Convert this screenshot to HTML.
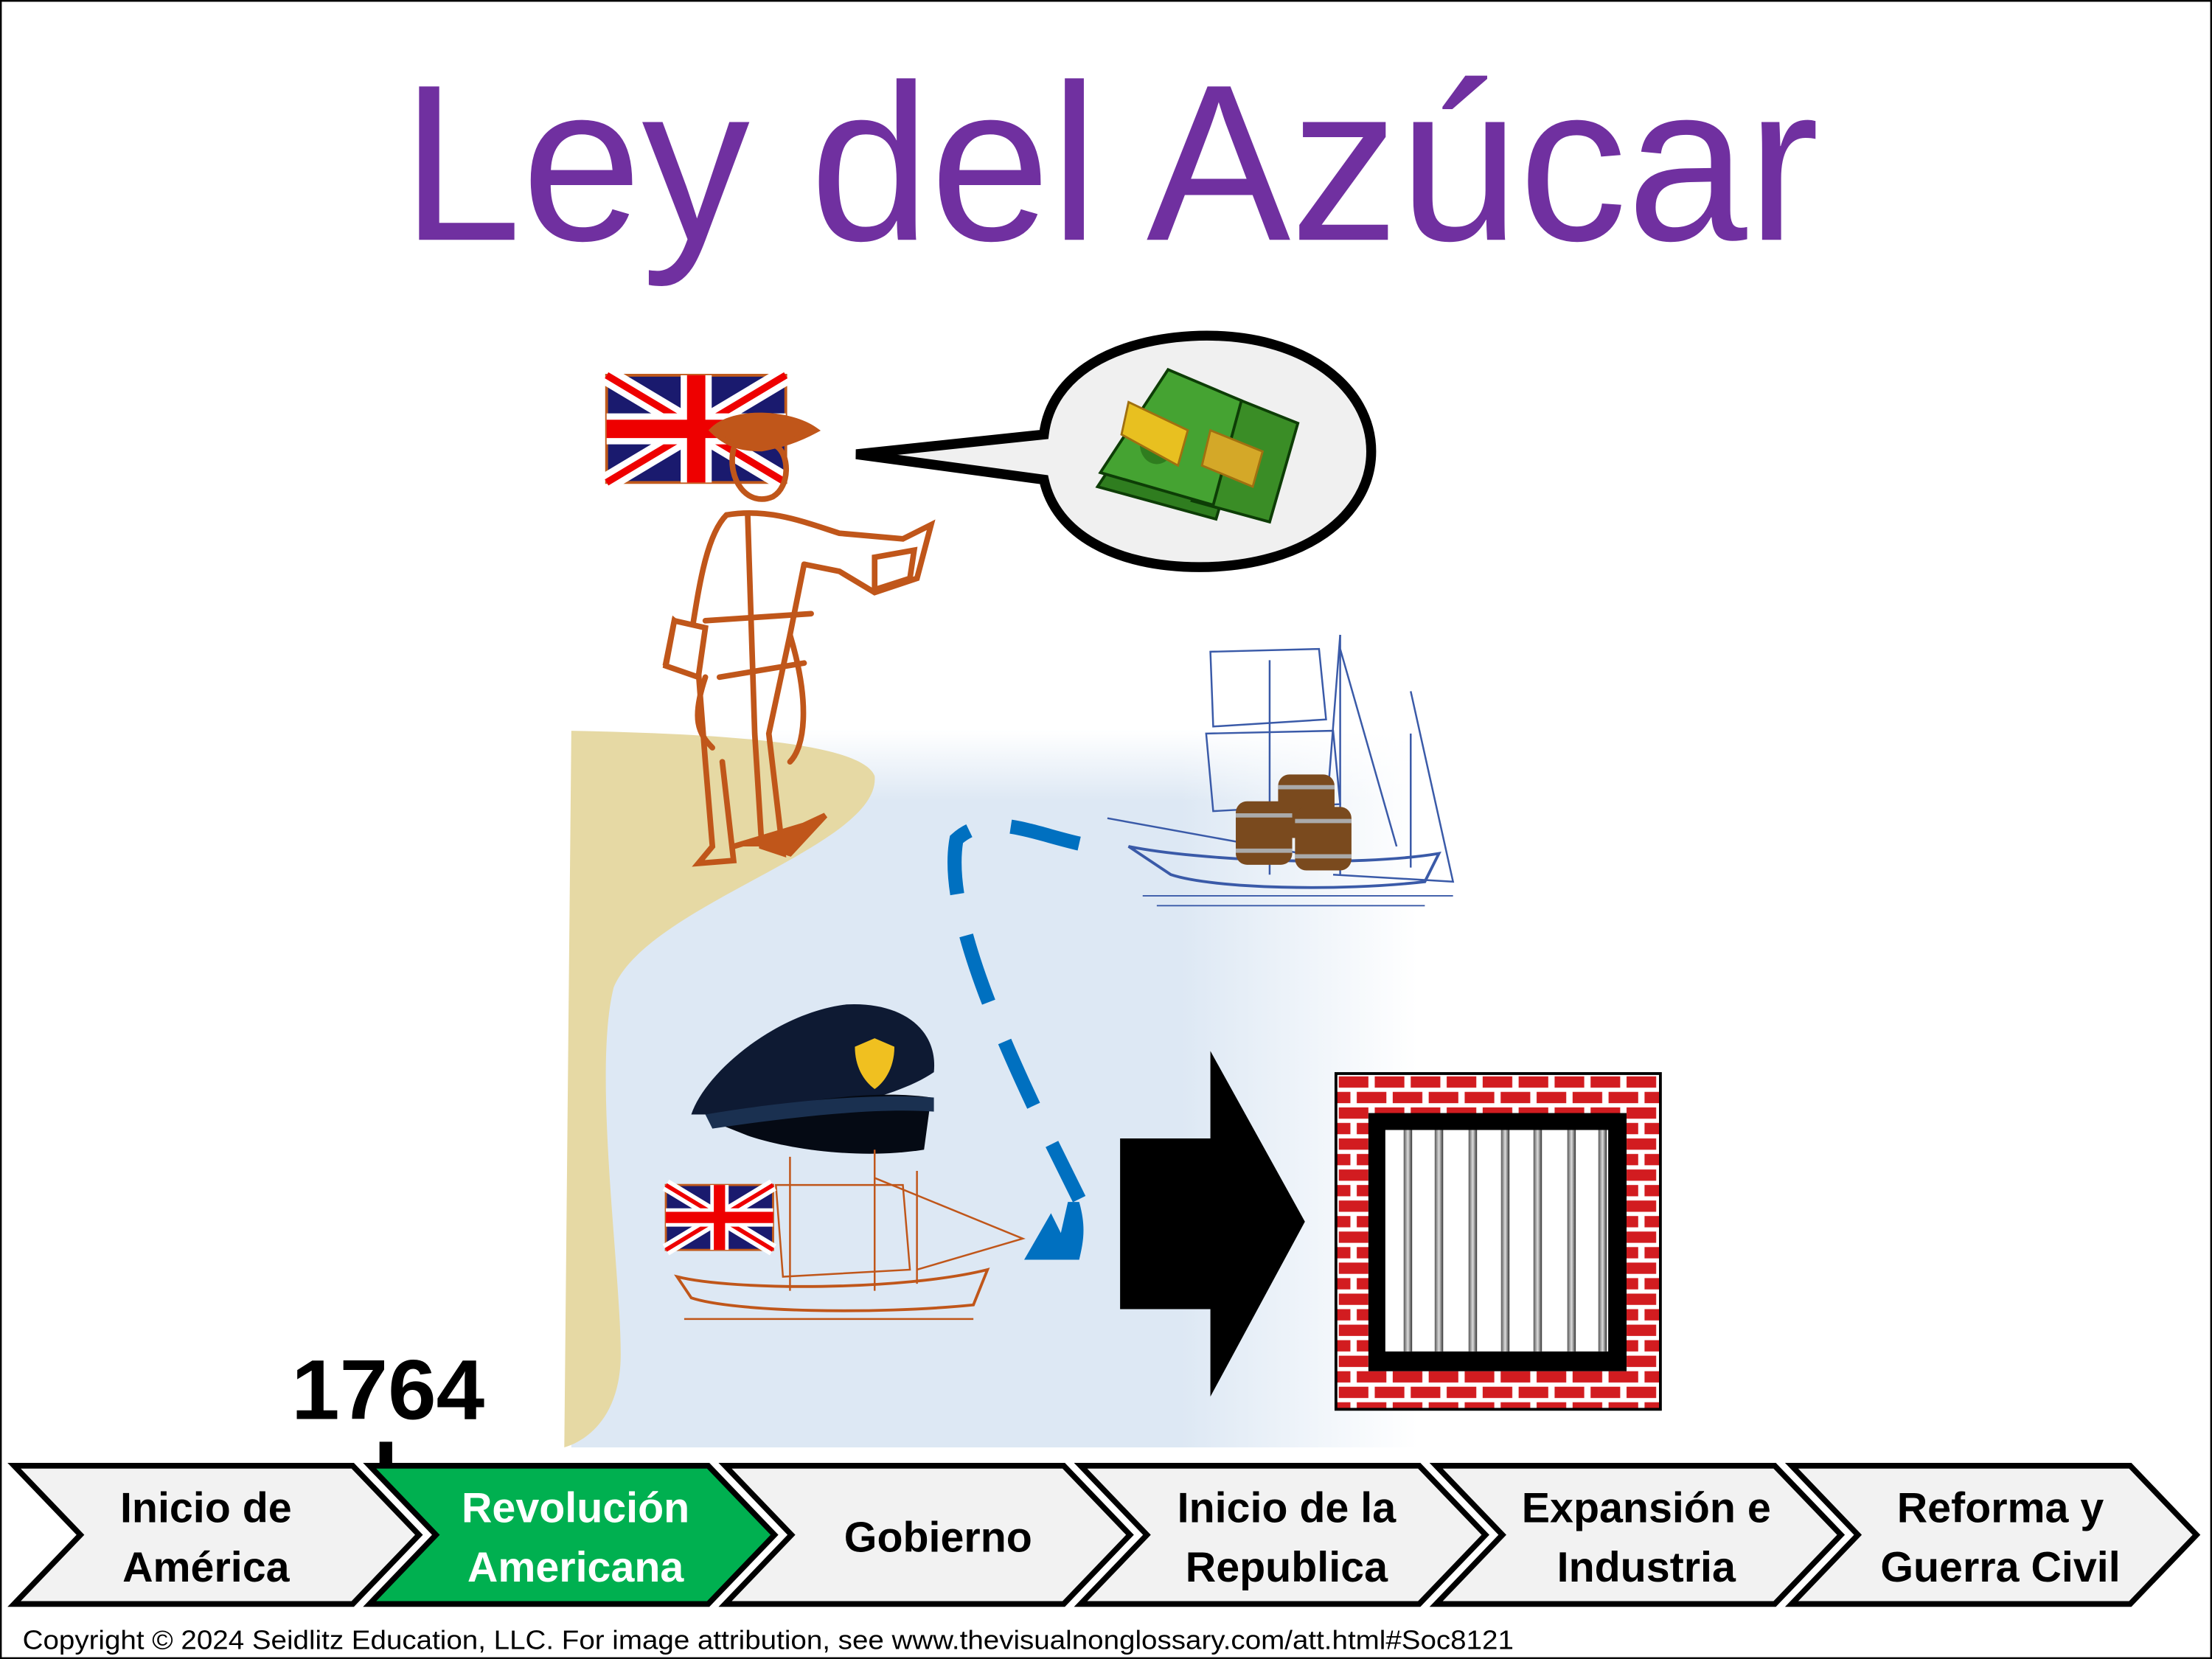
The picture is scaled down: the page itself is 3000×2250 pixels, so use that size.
<!DOCTYPE html>
<html><head><meta charset="utf-8"><style>html,body{margin:0;padding:0;background:#fff}svg{display:block}</style></head>
<body>
<svg width="3000" height="2250" viewBox="0 0 1568 1176" xmlns="http://www.w3.org/2000/svg">
<defs>
<linearGradient id="water" x1="0" x2="1" y1="0" y2="0">
<stop offset="0" stop-color="#dde8f4"/><stop offset="0.72" stop-color="#dde8f4"/><stop offset="1" stop-color="#ffffff"/></linearGradient>
<linearGradient id="waterTop" x1="0" x2="0" y1="0" y2="1">
<stop offset="0" stop-color="#fff" stop-opacity="1"/><stop offset="1" stop-color="#fff" stop-opacity="0"/></linearGradient>
<pattern id="brick" width="25.5" height="22" patternUnits="userSpaceOnUse" x="948" y="762">
<rect width="25.5" height="22" fill="#fff"/>
<rect x="1" y="1" width="21" height="8" fill="#d21c20"/>
<rect x="-11.75" y="12" width="21" height="8" fill="#d21c20"/>
<rect x="13.75" y="12" width="21" height="8" fill="#d21c20"/>
</pattern>
<linearGradient id="bar" x1="0" x2="1"><stop offset="0" stop-color="#555"/><stop offset="0.5" stop-color="#ddd"/><stop offset="1" stop-color="#333"/></linearGradient>
</defs>
<rect x="0.5" y="0.5" width="1567" height="1175" fill="#fff" stroke="#000" stroke-width="1.5"/>

<text x="787" y="170" text-anchor="middle" font-family="Liberation Sans, sans-serif" font-size="158" fill="#7030a0" textLength="1005" lengthAdjust="spacingAndGlyphs">Ley del Azúcar</text>

<rect x="405" y="518" width="600" height="508" fill="url(#water)"/>
<rect x="405" y="518" width="600" height="50" fill="url(#waterTop)"/>
<path d="M405,518 C500,520 610,525 620,550 C625,600 460,640 435,700 C420,760 440,900 440,960 C440,1000 420,1020 400,1026 Z" fill="#e6d9a4"/>

<path d="M607,322 L740,308 C745,265 790,240 850,238 C925,236 972,275 972,320 C972,365 925,402 850,402 C790,402 748,378 740,340 Z" fill="#f0f0f0" stroke="#000" stroke-width="7" stroke-linejoin="miter"/>
<g>
<polygon points="830,266 885,290 862,368 778,345" fill="#2f7d1f" stroke="#0d3d06" stroke-width="2"/>
<polygon points="870,280 920,300 900,370 845,355" fill="#3a8d26" stroke="#0d3d06" stroke-width="2"/>
<polygon points="828,262 880,284 860,358 780,335" fill="#45a332" stroke="#0d3d06" stroke-width="2"/>
<ellipse cx="820" cy="315" rx="12" ry="14" fill="#2f7d1f"/>
<polygon points="800,285 842,305 835,330 795,308" fill="#e8c020" stroke="#a07010" stroke-width="1.5"/>
<polygon points="858,305 895,320 888,345 852,330" fill="#d4a828" stroke="#a07010" stroke-width="1.5"/>
</g>

<g transform="translate(430,266)">
<rect width="127" height="76" fill="#1a1a6e" stroke="#c05a1c" stroke-width="2"/>
<path d="M0,0 L127,76 M127,0 L0,76" stroke="#fff" stroke-width="14"/>
<path d="M0,0 L127,76 M127,0 L0,76" stroke="#e00" stroke-width="5"/>
<path d="M63.5,0 V76 M0,38 H127" stroke="#fff" stroke-width="22"/>
<path d="M63.5,0 V76 M0,38 H127" stroke="#e00" stroke-width="13"/>
</g>

<g fill="none" stroke="#c0561a" stroke-width="4" stroke-linecap="round">
<path d="M505,305 C520,290 560,292 578,305 C565,312 555,315 540,318 C525,318 515,315 505,305Z" fill="#c0561a"/>
<path d="M520,318 C515,340 530,360 548,352 C560,345 560,322 550,316"/>
<path d="M515,365 C500,380 495,420 490,450 L478,440 L472,470 L495,475 L500,540 L505,600 L495,612 L520,610 L512,540"/>
<path d="M515,365 C545,360 570,370 595,378 L640,382 L660,372 L650,410 L620,420 L595,405 L570,400"/>
<path d="M530,365 L535,520 L540,600 L555,605 L545,520 L560,450 L570,400"/>
<path d="M500,440 L575,435 M510,480 L570,470"/>
<path d="M560,450 C575,500 570,530 560,540 M500,480 C490,510 495,520 505,530"/>
<path d="M520,600 L570,585 L585,578 L560,605 L545,600" fill="#c0561a"/>
<path d="M478,440 L500,445 L495,480 L472,472Z" fill="#fff"/>
<path d="M620,395 L648,390 L645,410 L620,418Z" fill="#fff"/>
</g>

<g fill="none" stroke="#3a5aa8" stroke-width="1.3">
<path d="M950,450 V620 M900,468 V620 M1000,520 V615"/>
<path d="M858,462 L935,460 L940,510 L860,515 Z M855,520 L945,518 L950,570 L860,575Z"/>
<path d="M950,450 L940,580 L880,600 M950,460 L990,600 M1000,490 L1030,625 L945,620 M785,580 L950,610"/>
<path d="M800,600 C850,610 960,615 1020,605 L1010,625 C950,632 860,630 830,620 Z" stroke-width="2"/>
<path d="M810,635 H1030 M820,642 H1010" stroke-width="1"/>
</g>
<g>
<rect x="906" y="549" width="40" height="45" rx="8" fill="#7a4a1e"/>
<rect x="876" y="568" width="40" height="45" rx="8" fill="#7a4a1e"/>
<rect x="918" y="572" width="40" height="45" rx="8" fill="#7a4a1e"/>
<path d="M906,558 H946 M876,578 H916 M918,582 H958 M876,603 H916 M918,607 H958" stroke="#aaa" stroke-width="3"/>
</g>

<path d="M765,598 C730,590 700,575 678,595 C668,650 715,750 765,850" fill="none" stroke="#0070c0" stroke-width="10" stroke-dasharray="50,30"/>
<path d="M765,852 C770,870 768,880 765,893 L726,893 L745,860 L752,874 L757,852Z" fill="#0070c0"/>

<path d="M490,790 C500,760 550,718 600,712 C640,710 665,730 662,760 C640,775 600,785 560,790 Z" fill="#0e1a33"/>
<path d="M505,795 C560,780 620,772 660,778 L655,815 C610,822 560,815 530,805 Z" fill="#050a14"/>
<path d="M500,790 C560,780 620,775 662,778 L662,788 C620,785 560,792 505,800Z" fill="#1a3050"/>
<path d="M606,742 L620,736 L634,742 C634,758 626,768 620,772 C612,766 606,756 606,742Z" fill="#f0c020"/>

<g fill="none" stroke="#c0561a" stroke-width="1.3">
<path d="M560,820 V915 M620,815 V915 M650,830 V910"/>
<path d="M550,840 L640,840 L645,900 L555,905Z M620,835 L725,878 L650,900"/>
<path d="M480,905 C520,915 640,915 700,900 L690,925 C620,932 520,930 490,920Z" stroke-width="2"/>
<path d="M485,935 H690"/>
</g>
<g transform="translate(472,840)">
<rect width="76" height="46" fill="#1a1a6e" stroke="#c05a1c" stroke-width="1.5"/>
<path d="M0,0 L76,46 M76,0 L0,46" stroke="#fff" stroke-width="9"/>
<path d="M0,0 L76,46 M76,0 L0,46" stroke="#e00" stroke-width="3"/>
<path d="M38,0 V46 M0,23 H76" stroke="#fff" stroke-width="13"/>
<path d="M38,0 V46 M0,23 H76" stroke="#e00" stroke-width="8"/>
</g>

<polygon points="794,807 858,807 858,745 925,866 858,990 858,928 794,928" fill="#000"/>

<rect x="947" y="761" width="230" height="238" fill="url(#brick)" stroke="#000" stroke-width="2"/>
<rect x="970" y="789" width="183" height="183" fill="#000"/>
<rect x="982" y="801" width="158" height="157" fill="#fff"/>
<g fill="url(#bar)">
<rect x="995" y="801" width="6" height="157"/><rect x="1017" y="801" width="6" height="157"/>
<rect x="1041" y="801" width="6" height="157"/><rect x="1064" y="801" width="6" height="157"/>
<rect x="1087" y="801" width="6" height="157"/><rect x="1111" y="801" width="6" height="157"/>
<rect x="1133" y="801" width="6" height="157"/>
</g>

<text x="275" y="1006" text-anchor="middle" font-family="Liberation Sans, sans-serif" font-weight="bold" font-size="60" fill="#000" textLength="137" lengthAdjust="spacingAndGlyphs">1764</text>
<rect x="269" y="1022" width="9" height="18" fill="#000"/>

<g stroke="#000" stroke-width="4" stroke-linejoin="miter">
<polygon points="10,1039 250,1039 297,1088 250,1137 10,1137 57,1088" fill="#f2f2f2"/>
<polygon points="262,1039 502,1039 549,1088 502,1137 262,1137 309,1088" fill="#00b050"/>
<polygon points="514,1039 754,1039 801,1088 754,1137 514,1137 561,1088" fill="#f2f2f2"/>
<polygon points="766,1039 1006,1039 1053,1088 1006,1137 766,1137 813,1088" fill="#f2f2f2"/>
<polygon points="1018,1039 1258,1039 1305,1088 1258,1137 1018,1137 1065,1088" fill="#f2f2f2"/>
<polygon points="1270,1039 1510,1039 1557,1088 1510,1137 1270,1137 1317,1088" fill="#f2f2f2"/>
</g>
<g font-family="Liberation Sans, sans-serif" font-weight="bold" font-size="30" text-anchor="middle" fill="#000">
<text x="146" y="1079">Inicio de</text><text x="146" y="1121">América</text>
<text x="408" y="1079" fill="#fff">Revolución</text><text x="408" y="1121" fill="#fff">Americana</text>
<text x="665" y="1100">Gobierno</text>
<text x="912" y="1079">Inicio de la</text><text x="912" y="1121">Republica</text>
<text x="1167" y="1079">Expansión e</text><text x="1167" y="1121">Industria</text>
<text x="1418" y="1079">Reforma y</text><text x="1418" y="1121">Guerra Civil</text>
</g>

<text x="16" y="1169" font-family="Liberation Sans, sans-serif" font-size="19" fill="#000" textLength="1057" lengthAdjust="spacingAndGlyphs">Copyright © 2024 Seidlitz Education, LLC.  For image attribution, see www.thevisualnonglossary.com/att.html#Soc8121</text>
</svg>
</body></html>
